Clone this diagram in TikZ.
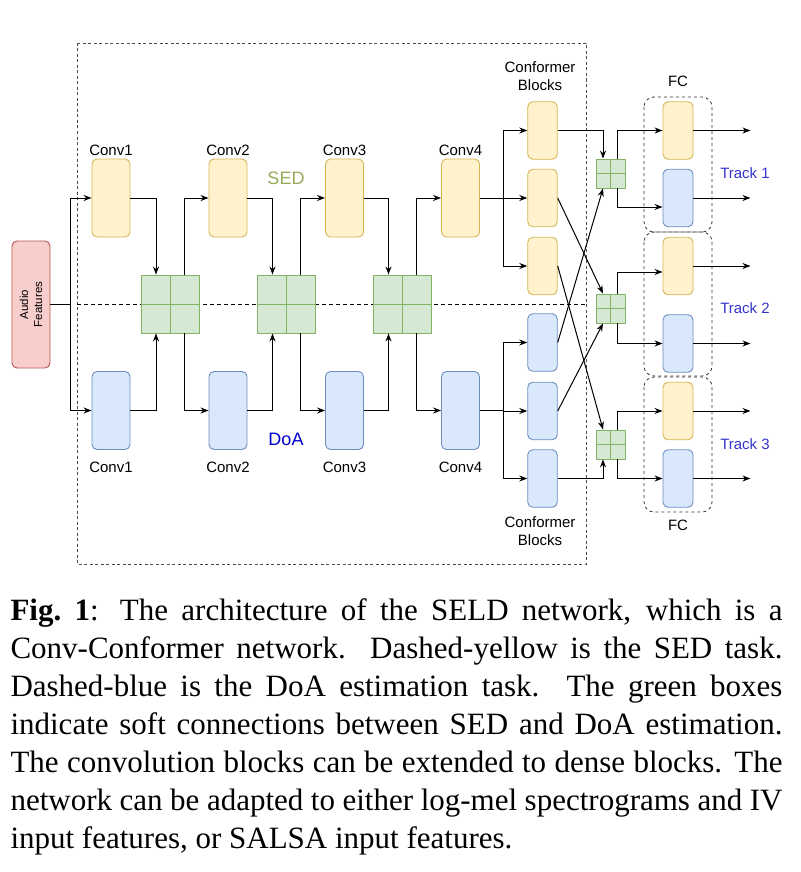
\documentclass[tikz,border=0pt]{standalone}
\usepackage{fontspec}
\setmainfont{Liberation Serif}
\setsansfont{Liberation Sans}
\usetikzlibrary{arrows.meta}

\definecolor{sedfill}{HTML}{FFF2CC}
\definecolor{seddraw}{HTML}{D6B656}
\definecolor{doafill}{HTML}{DAE8FC}
\definecolor{doadraw}{HTML}{6C8EBF}
\definecolor{mixfill}{HTML}{D5E8D4}
\definecolor{mixdraw}{HTML}{82B366}
\definecolor{infill}{HTML}{F8CECC}
\definecolor{indraw}{HTML}{B85450}
\definecolor{sedtext}{RGB}{150,170,90}
\definecolor{tracktext}{HTML}{3333CC}

\begin{document}
\begin{tikzpicture}
[x=1pt,y=-1pt,line width=1pt,>={Stealth[length=8pt,width=6pt]},%
  font=\sffamily\fontsize{15}{18}\selectfont,%
  block/.style={rectangle,rounded corners=5pt,line width=0.9pt,inner sep=0pt},%
  sedconv/.style={block,fill=sedfill,draw=seddraw,minimum width=38pt,minimum height=78pt},%
  doaconv/.style={block,fill=doafill,draw=doadraw,minimum width=38pt,minimum height=78pt},%
  sedsmall/.style={block,fill=sedfill,draw=seddraw,minimum width=29.5pt,minimum height=57.5pt},%
  doasmall/.style={block,fill=doafill,draw=doadraw,minimum width=29.5pt,minimum height=57.5pt},%
  inbox/.style={block,fill=infill,draw=indraw,minimum width=38pt,minimum height=127pt},%
  mix/.style={rectangle,fill=mixfill,draw=mixdraw,line width=0.9pt,inner sep=0pt,%
    minimum size=#1,%
    path picture={\draw[mixdraw,line width=0.9pt]
      (path picture bounding box.north) -- (path picture bounding box.south)
      (path picture bounding box.west) -- (path picture bounding box.east);}},%
  fcgroup/.style={draw=black!80,dashed,line width=0.8pt,rounded corners=10pt},%
  track/.style={text=tracktext}]
\useasboundingbox (0,0) rectangle (800,872);
%% frame and SED/DoA split
\draw[draw=black!70,line width=0.8pt,dash pattern=on 3pt off 2.5pt] (77,43) rectangle (586,564);
\draw[line width=0.8pt,dash pattern=on 4pt off 3pt] (77,304) -- (587,304);
%% input
\node[inbox] (audio) at (31,304.5) {};
\node[rotate=90,align=center,font=\sffamily\fontsize{11.5}{14}\selectfont] (audiolbl) at (audio.center) {Audio\\Features};
\coordinate (split) at (70,304.5);
%% conv blocks
\foreach \i/\x in {1/111,2/228,3/344.5,4/460.5}
{
  \node[sedconv] (c\i-s) at (\x,198) {};
  \node[doaconv] (c\i-d) at (\x,410.5) {};
  \node (c\i-sl) at (\x,150) {Conv\i};
  \node (c\i-dl) at (\x,467) {Conv\i};
}
\foreach \i/\x in {1/170,2/286.5,3/402.5}
  \node[mix=58pt] (m\i) at (\x,304) {};
\node[text=sedtext,font=\sffamily\fontsize{18}{20}\selectfont] (sedlbl) at (286,178) {SED};
\node[text=blue!80!black,font=\sffamily\fontsize{18}{20}\selectfont] (doalbl) at (286,439) {DoA};
%% conformer blocks
\foreach \i/\y in {1/130.5,2/198,3/266}
  \node[sedsmall] (cf\i-s) at (542.5,\y) {};
\foreach \i/\y in {1/342.5,2/411,3/478.5}
  \node[doasmall] (cf\i-d) at (542.5,\y) {};
\node[align=center] (cftop) at (540,76) {Conformer\\Blocks};
\node[align=center] (cfbot) at (540,531) {Conformer\\Blocks};
\coordinate (br-s) at (503,198);
\coordinate (br-d) at (503,410.5);
\foreach \i/\y in {1/173.5,2/308.5,3/444.5}
  \node[mix=29pt] (s\i) at (610.5,\y) {};
%% FC per track
\foreach \i/\ys/\yd in {1/130.5/198,2/266/343.5,3/411/478.5}
{
  \node[sedsmall,minimum width=30pt] (fc\i-s) at (678,\ys) {};
  \node[doasmall,minimum width=30pt] (fc\i-d) at (678,\yd) {};
}
\draw[fcgroup] (644,97) rectangle (712,232);
\draw[fcgroup] (644,232) rectangle (712,376);
\draw[fcgroup] (644,377) rectangle (712,512);
\node (fctop) at (678,81) {FC};
\node (fcbot) at (678,525) {FC};
\node[track] (t1) at (745,172.7) {Track 1};
\node[track] (t2) at (745,308.3) {Track 2};
\node[track] (t3) at (745,444) {Track 3};
%% connectors
\draw (audio.east) -- (split);
\draw[->] (split) |- (c1-s.west);
\draw[->] (split) |- (c1-d.west);
\foreach \i/\j in {1/2,2/3,3/4}
{
  \draw[->] (c\i-s.east) -| ([xshift=-14pt]m\i.north);
  \draw[->] (c\i-d.east) -| ([xshift=-14pt]m\i.south);
  \draw[->] ([xshift=14pt]m\i.north) |- (c\j-s.west);
  \draw[->] ([xshift=14pt]m\i.south) |- (c\j-d.west);
}
\draw (c4-s.east) -- (br-s);
\draw (c4-d.east) -- (br-d);
\foreach \i in {1,2,3}
{
  \draw[->] (br-s) |- (cf\i-s.west);
  \draw[->] (br-d) |- (cf\i-d.west);
}
\draw[->] (cf1-s.east) -| ([xshift=-7.5pt]s1.north);
\draw[->] (cf2-s.east) -- ([xshift=-7.5pt]s2.north);
\draw[->] (cf3-s.east) -- ([xshift=-7.5pt]s3.north);
\draw[->] (cf1-d.east) -- ([xshift=-7.5pt]s1.south);
\draw[->] (cf2-d.east) -- ([xshift=-7.5pt]s2.south);
\draw[->] (cf3-d.east) -| ([xshift=-7.5pt]s3.south);
\draw[->] ([xshift=7pt]s1.north) |- (fc1-s.west);
\draw[->] ([xshift=7pt]s1.south) |- ([yshift=-9pt]fc1-d.west);
\draw[->] ([xshift=7pt]s2.north) |- ([yshift=-6pt]fc2-s.west);
\draw[->] ([xshift=7pt]s2.south) |- (fc2-d.west);
\draw[->] ([xshift=7pt]s3.north) |- (fc3-s.west);
\draw[->] ([xshift=7pt]s3.south) |- (fc3-d.west);
\foreach \n in {fc1-s,fc1-d,fc2-s,fc2-d,fc3-s,fc3-d}
{
  \coordinate (\n-o) at ([xshift=57pt]\n.east);
  \draw[->] (\n.east) -- (\n-o);
}
%% caption
\node[anchor=north west,inner sep=0pt,text width=772pt,align=justify,
  font=\rmfamily\fontsize{31}{38}\selectfont] (caption) at (10,598.5)
  {\textbf{Fig.\ 1}: The architecture of the SELD network, which is a\linebreak
  Conv-Conformer network.  Dashed-yellow is the SED task.\linebreak
  Dashed-blue is the DoA estimation task.  The green boxes\linebreak
  indicate soft connections between SED and DoA estimation.\linebreak
  The convolution blocks can be extended to dense blocks. The\linebreak
  network can be adapted to either log-mel spectrograms and IV\linebreak
  input features, or SALSA input features.};
\end{tikzpicture}
\end{document}
